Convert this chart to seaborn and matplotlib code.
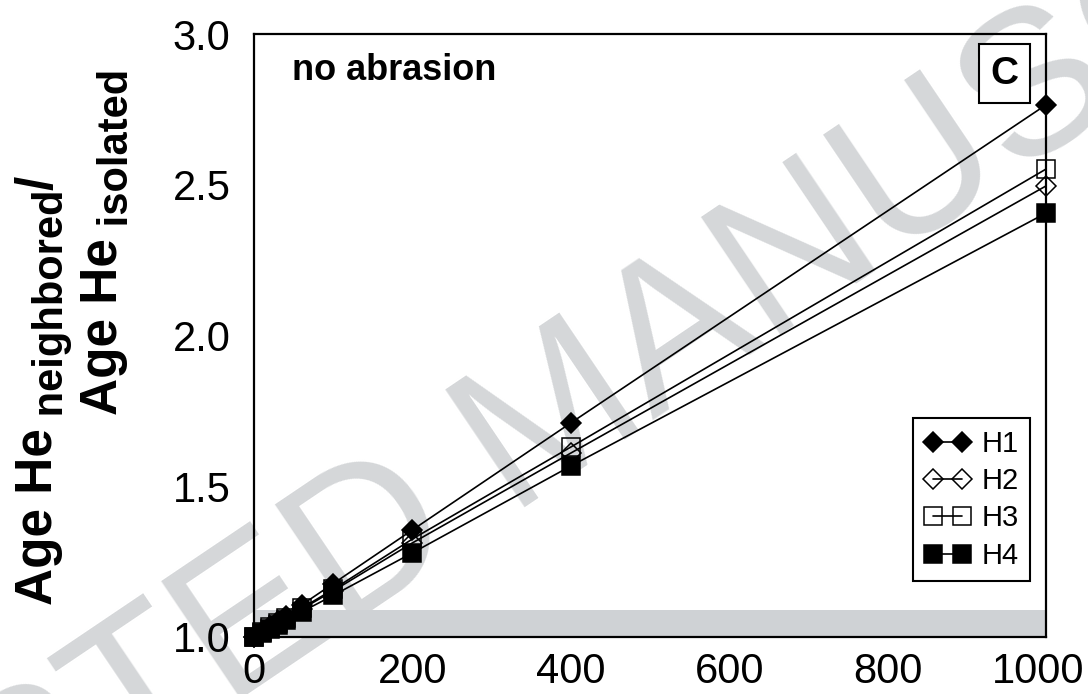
import numpy as np
import pandas as pd
import matplotlib
matplotlib.use("Agg")
import matplotlib.pyplot as plt
import matplotlib.transforms as mtransforms
import seaborn as sns

# ---- data -------------------------------------------------------------
distance = [0, 10, 20, 30, 40, 60, 100, 200, 400, 1000]
h1 = [1.000, 1.018, 1.035, 1.053, 1.071, 1.106, 1.177, 1.355, 1.710, 2.765]
h2 = [1.000, 1.015, 1.030, 1.046, 1.061, 1.092, 1.153, 1.312, 1.610, 2.496]
h3 = [1.000, 1.016, 1.032, 1.048, 1.064, 1.095, 1.158, 1.325, 1.630, 2.552]
h4 = [1.000, 1.014, 1.028, 1.041, 1.055, 1.083, 1.138, 1.279, 1.567, 2.406]
series_names = ["H1", "H2", "H3", "H4"]
band_range = (1.0, 1.09)

xticks_major = [0, 200, 400, 600, 800, 1000]
yticks_major = [1.0, 1.5, 2.0, 2.5, 3.0]

df = pd.DataFrame({
    "distance": distance * 4,
    "ratio": h1 + h2 + h3 + h4,
    "series": sum([[n] * len(distance) for n in series_names], []),
})

# ---- style ------------------------------------------------------------
sns.set_theme(style="white")
plt.rcParams["font.family"] = ["Liberation Sans", "DejaVu Sans"]
plt.rcParams.update({
    "text.color": "black",
    "axes.labelcolor": "black",
    "xtick.color": "black",
    "ytick.color": "black",
    "axes.edgecolor": "black",
})

marker_styles = {
    "H1": dict(marker="D", markersize=10.0, markerfacecolor="black"),
    "H2": dict(marker="D", markersize=10.0, markerfacecolor="none"),
    "H3": dict(marker="s", markersize=12.5, markerfacecolor="none"),
    "H4": dict(marker="s", markersize=12.5, markerfacecolor="black"),
}

fig = plt.figure(figsize=(10.88, 6.94), dpi=100)
ax = fig.add_axes([254 / 1088, 57 / 694, 792 / 1088, 603 / 694])
ax.patch.set_alpha(0)

# watermark behind everything
fig.text(0.512, 0.392, "ACCEPTED MANUSCRIPT", fontsize=148, color="#d5d7d9",
         rotation=34, rotation_mode="anchor", ha="center", va="center",
         zorder=-5)

# shaded reference band
ax.axhspan(*band_range, color="#cfd2d5", lw=0, zorder=0.5)

for name in series_names:
    sub = df[df["series"] == name]
    sns.lineplot(data=sub, x="distance", y="ratio", ax=ax, color="black",
                 lw=1.2, markeredgecolor="black", markeredgewidth=1.1,
                 estimator=None, sort=False, label=name, clip_on=False,
                 zorder=3, **marker_styles[name])

ax.set_xlim(0, 1000)
ax.set_ylim(1.0, 3.0)
ax.set_xticks(xticks_major)
ax.set_xticks(np.arange(0, 1001, 100), minor=True)
ax.set_yticks(yticks_major)
ax.set_yticks(np.arange(1.0, 3.001, 0.1), minor=True)
ax.set_yticklabels([f"{v:.1f}" for v in yticks_major])
ax.tick_params(which="both", direction="in", top=False, right=False,
               width=1.5, labelsize=30)
ax.tick_params(axis="x", which="major", length=10, pad=11)
ax.tick_params(axis="x", which="minor", length=5)
ax.tick_params(axis="y", which="major", length=10, pad=17)
ax.tick_params(axis="y", which="minor", length=5)
for s in ax.spines.values():
    s.set_linewidth(1.6)
    s.set_color("black")
ax.set_xlabel("")
ax.set_ylabel("")

# keep the last x tick label inside the canvas
last = ax.get_xticklabels()[-1]
last.set_transform(last.get_transform() +
                   mtransforms.ScaledTranslation(-8 / 100, 0, fig.dpi_scale_trans))

ax.text(0.048, 0.923, "no abrasion", transform=ax.transAxes, fontsize=26,
        fontweight="bold", ha="left", va="baseline")
ax.text(0.948, 0.934, "C", transform=ax.transAxes, fontsize=28,
        fontweight="bold", ha="center", va="center",
        bbox=dict(boxstyle="square,pad=0.3", fc="white", ec="black", lw=1.5))

leg = ax.legend(loc="upper right", bbox_to_anchor=(0.98, 0.363),
                borderaxespad=0, frameon=True, fancybox=False,
                edgecolor="black", framealpha=1, numpoints=2,
                handlelength=1.6, handletextpad=0.35, labelspacing=0.32,
                borderpad=0.4, fontsize=21)
leg.get_frame().set_linewidth(1.5)

# ---- rotated y label built from pieces (main text + subscripts) --------
fig.canvas.draw()
renderer = fig.canvas.get_renderer()
ident = mtransforms.IdentityTransform()


def label_line(x_base, y_start, parts):
    y = y_start
    for txt, size, dx in parts:
        t = fig.text(x_base + dx, y, txt, fontsize=size, fontweight="bold",
                     rotation=90, rotation_mode="anchor", ha="left",
                     va="baseline", transform=ident)
        y += t.get_window_extent(renderer).height


label_line(52, 694 - 605, [("Age He", 37, 0), (" neighbored", 30, 11),
                           ("/", 37, 0)])
label_line(117, 694 - 415, [("Age He", 37, 0), (" isolated", 30, 11)])

fig.savefig("out.png", dpi=100)
